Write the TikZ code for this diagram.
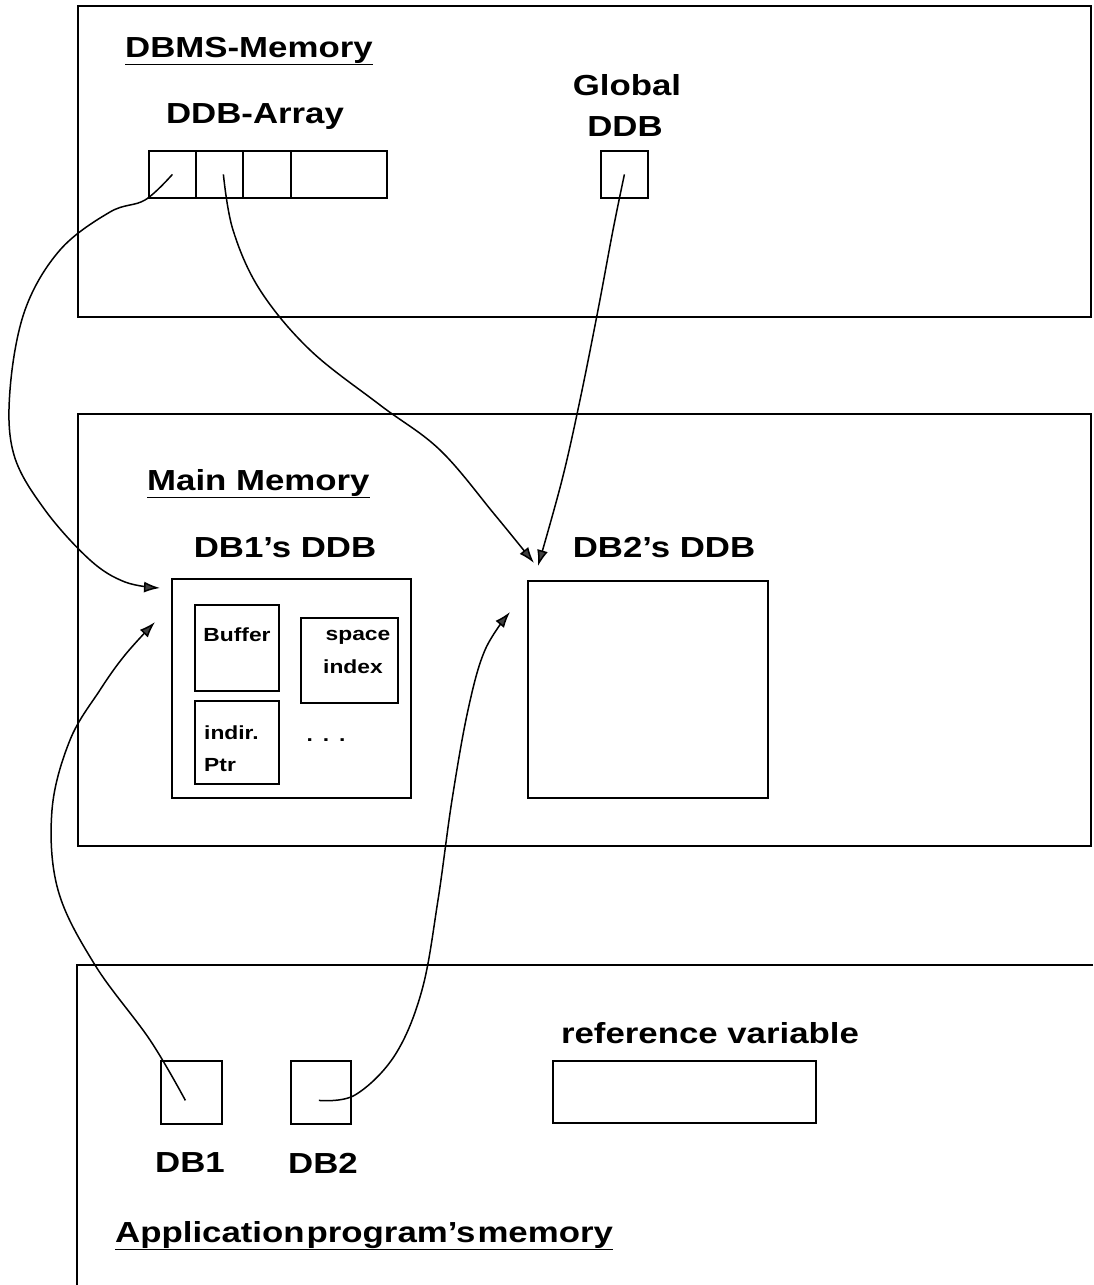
\documentclass[tikz,border=0pt]{standalone}
\usepackage{fontspec}
\setmainfont{Liberation Sans}[FakeStretch=1.2]
\usetikzlibrary{arrows.meta}

\begin{document}
\begin{tikzpicture}[x=1pt, y=-1pt,
    region/.style={draw, line width=2pt, inner sep=0pt, anchor=north west},
    cell/.style={draw, line width=1.8pt, inner sep=0pt, anchor=north west},
    biglabel/.style={font=\bfseries\fontsize{29}{34}\selectfont, inner sep=0pt},
    smalllabel/.style={font=\bfseries\fontsize{19}{22}\selectfont, inner sep=0pt},
    ptr/.style={line width=1.5pt, -{Latex[length=16pt, width=11pt, fill=black!75]}}]

    % Page size
    \useasboundingbox (0,0) rectangle (1093,1285);

    % DBMS memory
    \node[region, minimum width=1013pt, minimum height=311pt] (dbms) at (77,5) {};
    \node[biglabel, anchor=base west] (dbmsTitle) at (125,57) {\underline{DBMS-Memory}};
    \node[biglabel] (arrayLabel) at (255,117) {DDB-Array};
    \node[cell, minimum width=47pt, minimum height=47pt] (cellA) at (148,150) {};
    \node[cell, minimum width=47pt, minimum height=47pt] (cellB) at (195,150) {};
    \node[cell, minimum width=48pt, minimum height=47pt] (cellC) at (242,150) {};
    \node[cell, minimum width=96pt, minimum height=47pt] (cellD) at (290,150) {};
    \node[biglabel] (globalLabel) at (627,85) {Global};
    \node[biglabel] (globalDDBLabel) at (625,127) {DDB};
    \node[cell, minimum width=47pt, minimum height=47pt] (globalDDB) at (600,150) {};

    % Main memory
    \node[region, minimum width=1013pt, minimum height=432pt] (mainMem) at (77,413) {};
    \node[biglabel, anchor=base west] (mainTitle) at (147,490) {\underline{Main Memory}};
    \node[biglabel] (ddbOneLabel) at (285,548) {DB1's DDB};
    \node[biglabel] (ddbTwoLabel) at (664,548) {DB2's DDB};
    \node[cell, minimum width=239pt, minimum height=219pt] (ddbOne) at (171,578) {};
    \node[cell, minimum width=240pt, minimum height=217pt] (ddbTwo) at (527,580) {};
    \node[cell, minimum width=84pt, minimum height=86pt] (buffer) at (194,604) {};
    \node[smalllabel] at (237,635) {Buffer};
    \node[cell, minimum width=97pt, minimum height=85pt] (spaceIdx) at (300,617) {};
    \node[smalllabel] at (358,637) {space};
    \node[smalllabel] at (353,667) {index};
    \node[cell, minimum width=84pt, minimum height=83pt] (indirPtr) at (194,700) {};
    \node[smalllabel, anchor=west] at (204,733) {indir.};
    \node[smalllabel, anchor=west] at (204,765) {Ptr};
    \node[smalllabel] (dots) at (326,740) {.\hspace{10pt}.\hspace{10pt}.};

    % Application program's memory
    \draw[line width=2pt] (1093,965) -- (77,965) -- (77,1285);
    \node[biglabel] (refLabel) at (710,1033) {reference variable};
    \node[cell, minimum width=263pt, minimum height=62pt] (refVar) at (552,1060) {};
    \node[cell, minimum width=61pt, minimum height=63pt] (dbOne) at (160,1060) {};
    \node[cell, minimum width=60pt, minimum height=63pt] (dbTwo) at (290,1060) {};
    \node[biglabel] (dbOneLabel) at (190,1163) {DB1};
    \node[biglabel] (dbTwoLabel) at (323,1163) {DB2};
    \node[biglabel, anchor=base west] (appTitle) at (115,1242) {\underline{Application\hspace{2pt}program's\hspace{2pt}memory}};

    % Pointer ends
    \coordinate (tipA) at (160,588);
    \coordinate (tipB) at (534,563);
    \coordinate (tipC) at (538,566);
    \coordinate (tipD) at (155,622);
    \coordinate (tipE) at (510,612);

    % Pointers
    \draw[ptr] plot[smooth, tension=0.6] coordinates {(cellA.center) (145,200) (110,212) (60,250) (25,310) (10,390) (14,455) (45,510) (90,560) (125,582) (tipA)};
    \draw[ptr] plot[smooth, tension=0.6] coordinates {([xshift=4pt]cellB.center) (233,230) (260,290) (310,350) (380,405) (440,450) (495,515) (tipB)};
    \draw[ptr] plot[smooth, tension=0.6] coordinates {(globalDDB.center) (613,230) (598,310) (580,400) (562,480) (tipC)};
    \draw[ptr] plot[smooth, tension=0.6] coordinates {([xshift=-6pt,yshift=-8pt]dbOne.center) (150,1040) (95,965) (58,890) (52,810) (70,740) (100,690) (125,655) (tipD)};
    \draw[ptr] plot[smooth, tension=0.6] coordinates {([xshift=-2pt,yshift=-8pt]dbTwo.center) (355,1095) (395,1055) (422,990) (438,900) (452,800) (468,710) (485,650) (tipE)};
\end{tikzpicture}
\end{document}
